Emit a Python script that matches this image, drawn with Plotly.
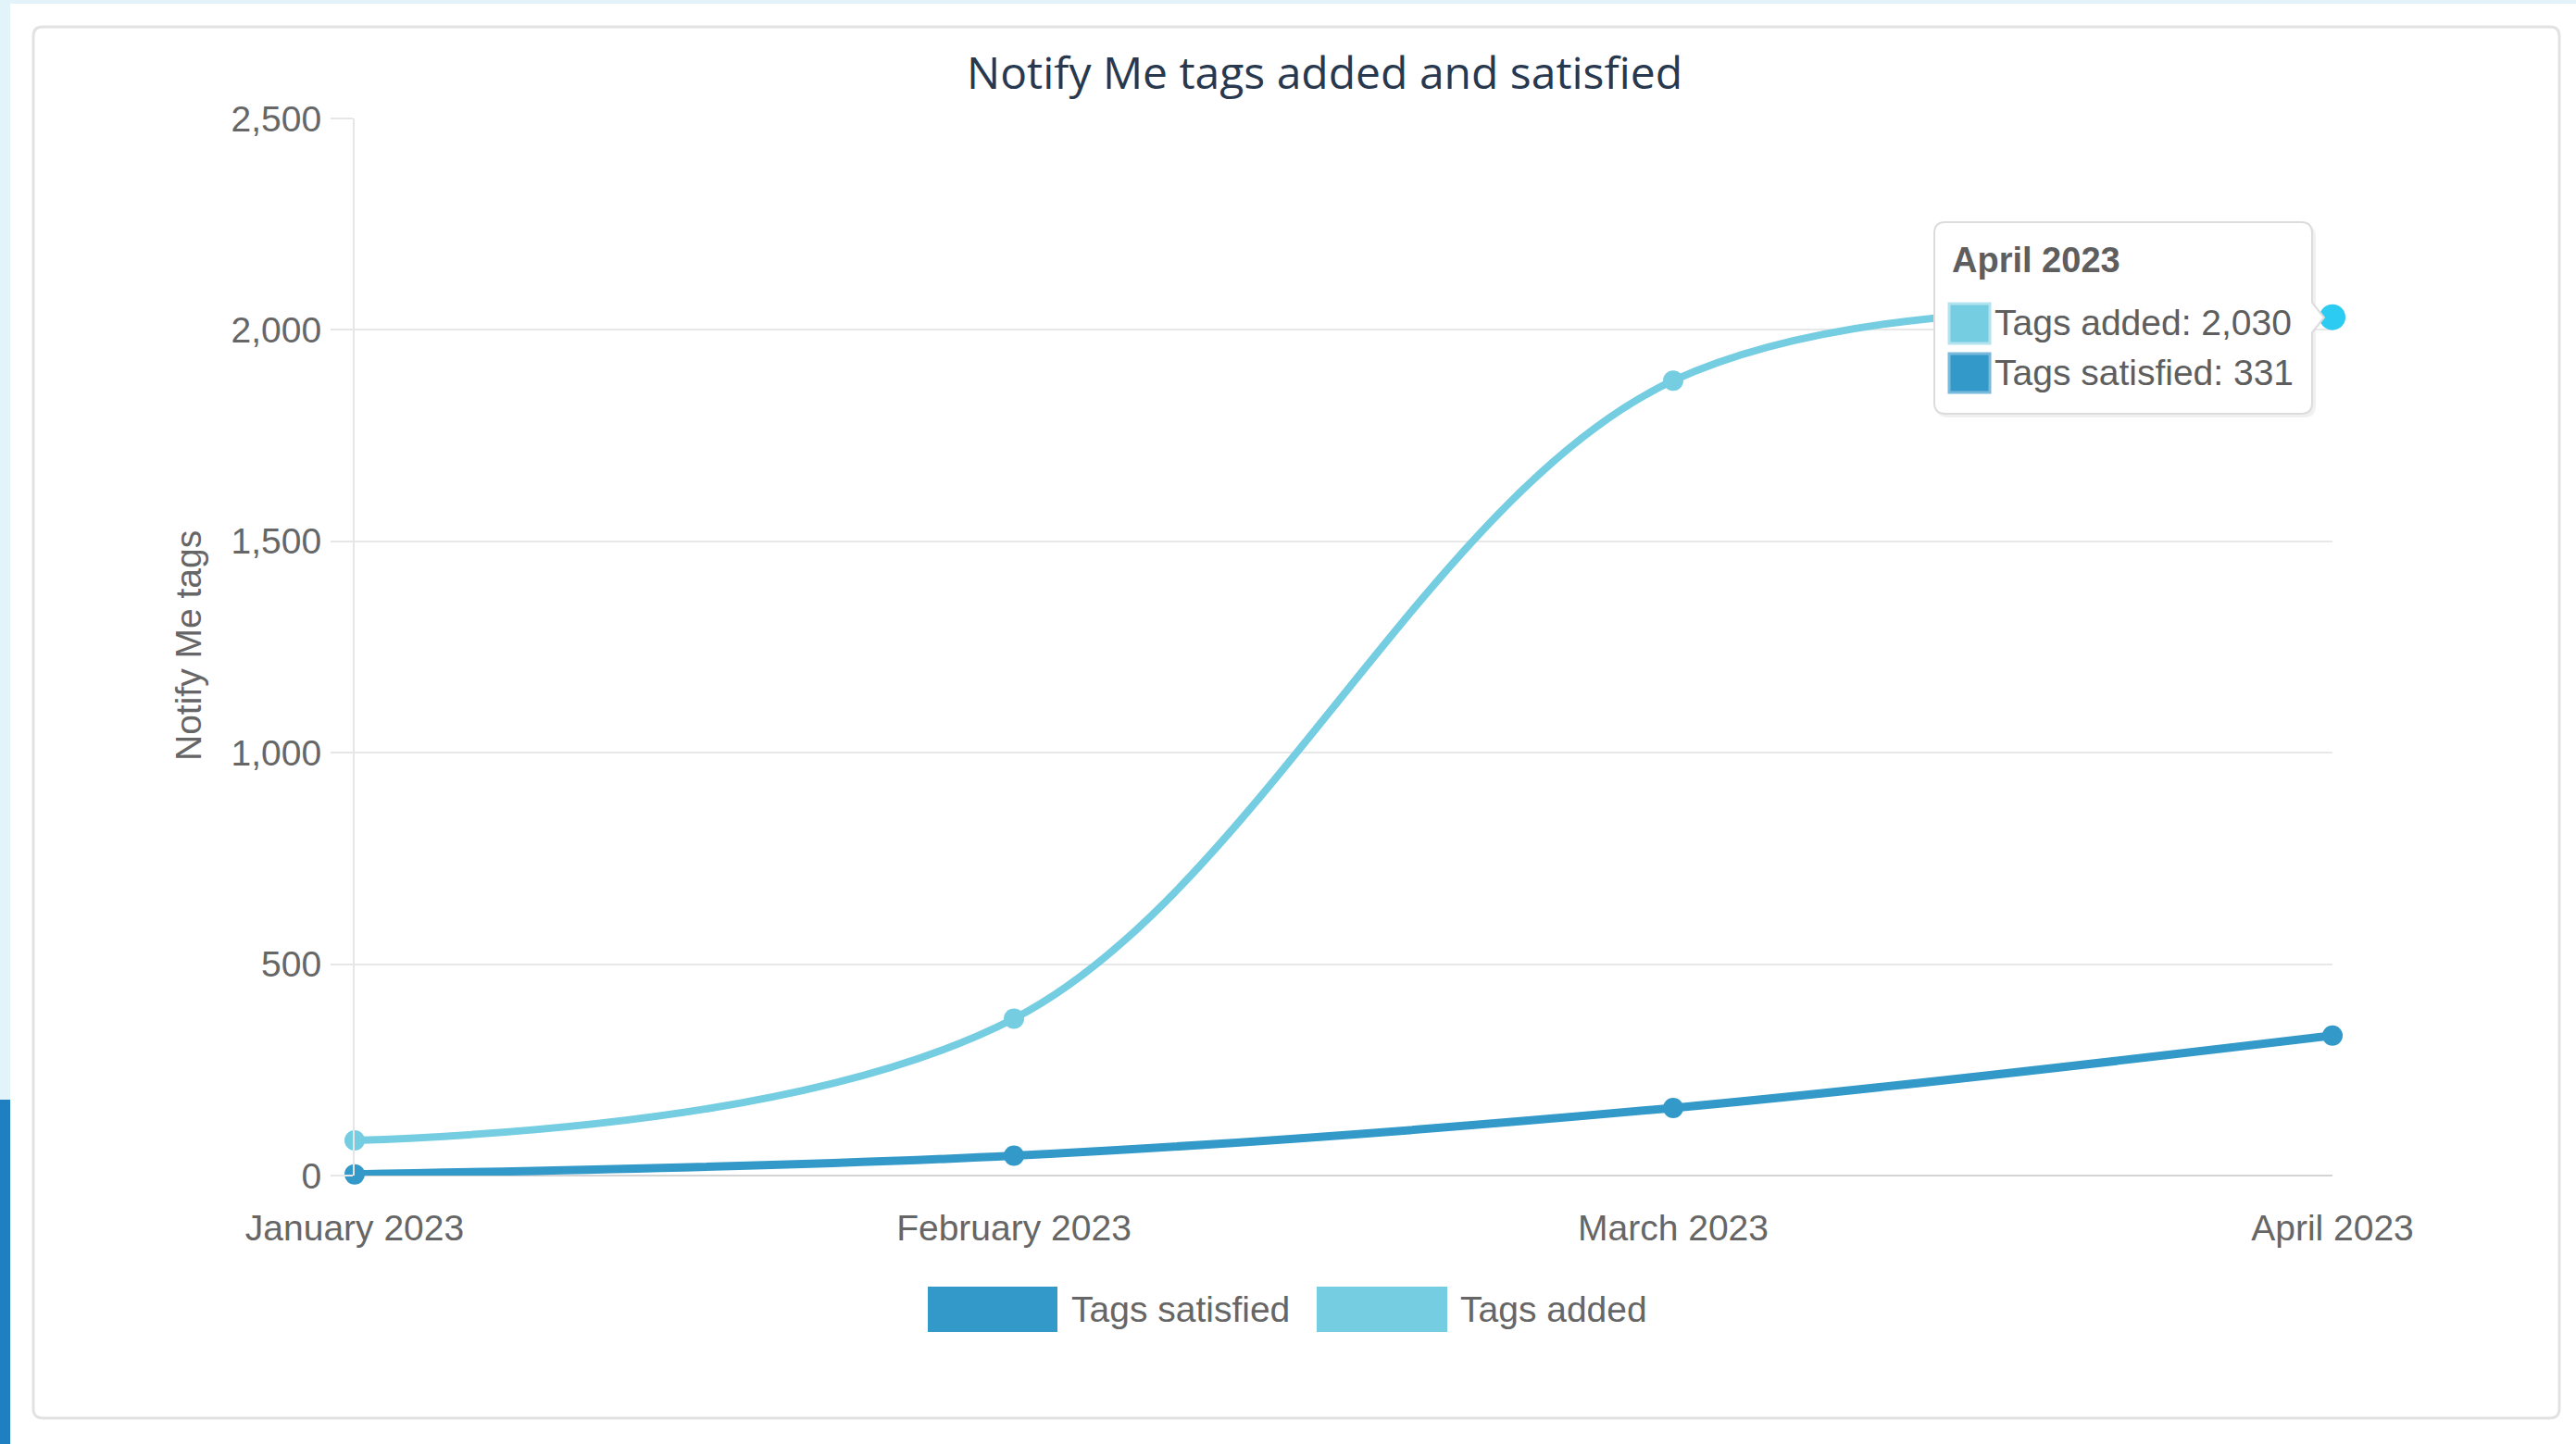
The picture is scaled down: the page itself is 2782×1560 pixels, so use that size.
import plotly.graph_objects as go

# ---------------- data ----------------
months = ["January 2023", "February 2023", "March 2023", "April 2023"]
tags_satisfied = [3, 47, 160, 331]
tags_added = [83, 371, 1880, 2030]
y_ticks = [0, 500, 1000, 1500, 2000, 2500]
series_names = ["Tags satisfied", "Tags added"]
title_text = "Notify Me tags added and satisfied"
y_title = "Notify Me tags"

# ---------------- style ----------------
W, H = 2782, 1560
X0, X1 = 383, 2519      # plot area left/right (px)
YB, YT = 1270, 128      # plot area bottom/top (px)
C_SAT = "#3399c8"
C_ADD = "#74cde0"
C_HOVER = "#2ccbf2"
TXT = "#666666"
FONT = "Liberation Sans, Arial, sans-serif"
FS = 39


def px(x):
    return (x - X0) / (X1 - X0)


def py(y):
    return (YB - y) / (YB - YT)


def P(x, y):
    return f"{px(x):.6f},{py(y):.6f}"


def rrect(x0, y0, x1, y1, r, arrow=None):
    s = f"M {P(x0 + r, y0)} L {P(x1 - r, y0)} Q {P(x1, y0)} {P(x1, y0 + r)} "
    if arrow:
        ay, ah, tipx = arrow
        s += f"L {P(x1, ay - ah)} L {P(tipx, ay)} L {P(x1, ay + ah)} "
    s += (f"L {P(x1, y1 - r)} Q {P(x1, y1)} {P(x1 - r, y1)} "
          f"L {P(x0 + r, y1)} Q {P(x0, y1)} {P(x0, y1 - r)} "
          f"L {P(x0, y0 + r)} Q {P(x0, y0)} {P(x0 + r, y0)} Z")
    return s


def rect(x0, y0, x1, y1, fill, line=None, lw=0, layer="above"):
    return dict(type="rect", xref="paper", yref="paper",
                x0=px(x0), x1=px(x1), y0=py(y1), y1=py(y0),
                fillcolor=fill, line=dict(color=line or fill, width=lw),
                layer=layer)


fig = go.Figure()

fig.add_trace(go.Scatter(
    x=months, y=tags_satisfied, name=series_names[0], mode="lines+markers",
    line=dict(color=C_SAT, width=9, shape="spline", smoothing=1.0),
    marker=dict(color=C_SAT, size=22), cliponaxis=False, showlegend=False))
fig.add_trace(go.Scatter(
    x=months, y=tags_added, name=series_names[1], mode="lines+markers",
    line=dict(color=C_ADD, width=8, shape="spline", smoothing=1.0),
    marker=dict(color=C_ADD, size=22), cliponaxis=False, showlegend=False))
# hovered point highlight
fig.add_trace(go.Scatter(
    x=[months[-1]], y=[tags_added[-1]], mode="markers",
    marker=dict(color=C_HOVER, size=28), cliponaxis=False,
    showlegend=False, hoverinfo="skip"))

shapes = []
# page decorations
shapes.append(rect(0, 0, W, 4, "#e3f3fa", layer="below"))
shapes.append(rect(0, 0, 11, 1188, "#e3f3fa", layer="below"))
shapes.append(rect(0, 1188, 11, H, "#1e80c1", layer="below"))
shapes.append(dict(type="path", xref="paper", yref="paper", layer="below",
                   path=rrect(36, 29, 2764, 1532, 10),
                   fillcolor="rgba(0,0,0,0)", line=dict(color="#e2e2e2", width=3)))

# tooltip
shapes.append(dict(type="path", xref="paper", yref="paper", layer="above",
                   path=rrect(2091, 243, 2501, 451, 13),
                   fillcolor="rgba(0,0,0,0.06)", line=dict(width=0)))
shapes.append(dict(type="path", xref="paper", yref="paper", layer="above",
                   path=rrect(2089, 240, 2497, 447, 12, arrow=(343, 16, 2510)),
                   fillcolor="white", line=dict(color="#dcdcdc", width=2)))
shapes.append(rect(2105, 328, 2149, 371, C_ADD, line="#b3e3ef", lw=3))
shapes.append(rect(2105, 382, 2149, 424, C_SAT, line="#78b9dc", lw=3))

# legend boxes
shapes.append(rect(1002, 1390, 1142, 1439, C_SAT))
shapes.append(rect(1422, 1390, 1563, 1439, C_ADD))

annotations = [
    dict(text=title_text, x=px(1430), y=py(78), xref="paper", yref="paper",
         showarrow=False, xanchor="center", yanchor="middle",
         font=dict(family="Open Sans, sans-serif", size=48, color="#27384f")),
    dict(text=y_title, x=px(203), y=py(698), xref="paper", yref="paper",
         showarrow=False, textangle=-90, xanchor="center", yanchor="middle",
         font=dict(family=FONT, size=FS, color=TXT)),
    dict(text=f"<b>{months[-1]}</b>", x=px(2106), y=py(281), xref="paper", yref="paper",
         showarrow=False, xanchor="left", yanchor="middle",
         font=dict(family=FONT, size=38, color="#5e5e5e")),
    dict(text=f"{series_names[1]}: {tags_added[-1]:,}", x=px(2152), y=py(348),
         xref="paper", yref="paper", showarrow=False, xanchor="left", yanchor="middle",
         font=dict(family=FONT, size=FS, color="#5e5e5e")),
    dict(text=f"{series_names[0]}: {tags_satisfied[-1]:,}", x=px(2152), y=py(402),
         xref="paper", yref="paper", showarrow=False, xanchor="left", yanchor="middle",
         font=dict(family=FONT, size=FS, color="#5e5e5e")),
    dict(text=series_names[0], x=px(1155), y=py(1414), xref="paper", yref="paper",
         showarrow=False, xanchor="left", yanchor="middle",
         font=dict(family=FONT, size=FS, color=TXT)),
    dict(text=series_names[1], x=px(1575), y=py(1414), xref="paper", yref="paper",
         showarrow=False, xanchor="left", yanchor="middle",
         font=dict(family=FONT, size=FS, color=TXT)),
]

fig.update_layout(
    width=W, height=H,
    margin=dict(l=X0, r=W - X1, t=YT, b=H - YB, pad=0),
    paper_bgcolor="white", plot_bgcolor="rgba(0,0,0,0)",
    shapes=shapes, annotations=annotations, showlegend=False,
    font=dict(family=FONT, color=TXT),
)
fig.update_xaxes(
    type="category", range=[0, len(months) - 1], showgrid=False, zeroline=False,
    showline=False, ticks="", tickfont=dict(family=FONT, size=FS, color=TXT),
    ticklabelstandoff=30,
)
fig.update_yaxes(
    range=[0, 2500], tickvals=y_ticks, tickformat=",", showgrid=True,
    gridcolor="#e8e8e8", gridwidth=2, zeroline=True, zerolinecolor="#d4d4d4",
    zerolinewidth=2, showline=True, linecolor="#e6e6e6", linewidth=2,
    ticks="outside", ticklen=24, tickwidth=2, tickcolor="#e6e6e6",
    tickfont=dict(family=FONT, size=FS, color=TXT), ticklabelstandoff=2,
)

fig.write_html("out.html", config={"displayModeBar": False},
               post_script="document.body.style.margin='0px';")
